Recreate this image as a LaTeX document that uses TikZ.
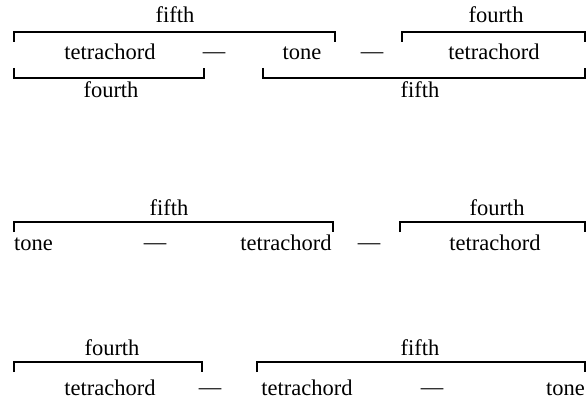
\documentclass[tikz,border=0pt]{standalone}
\usepackage{fontspec}
\setmainfont{Liberation Serif}
\begin{document}
\begin{tikzpicture}[x=1pt,y=-1pt,
  txt/.style={inner sep=0pt,anchor=base,font=\fontsize{22.5}{25}\selectfont},
  brk/.style={line width=1.3pt,line cap=butt,line join=miter}]
\useasboundingbox (0,0) rectangle (586,401);
% ---------- row 1 ----------
\node[txt] (r1top1) at (175,23) {fifth};
\node[txt] (r1top2) at (496,23) {fourth};
\node[txt] (r1a) at (110,60) {tetrachord};
\node[txt] (r1d1) at (214,59) {—};
\node[txt] (r1b) at (302,60) {tone};
\node[txt] (r1d2) at (372,59) {—};
\node[txt] (r1c) at (494,60) {tetrachord};
\node[txt] (r1bot1) at (111,98) {fourth};
\node[txt] (r1bot2) at (420,98) {fifth};
\coordinate (t1l) at (14,32);  \coordinate (t1r) at (335,32);
\coordinate (t2l) at (402,32); \coordinate (t2r) at (585,32);
\coordinate (u1l) at (14,78);  \coordinate (u1r) at (204,78);
\coordinate (u2l) at (263,78); \coordinate (u2r) at (585,78);
\draw[brk] (t1l) ++(0,10) -- (t1l) -- (t1r) -- ++(0,10);
\draw[brk] (t2l) ++(0,10) -- (t2l) -- (t2r) -- ++(0,10);
\draw[brk] (u1l) ++(0,-10) -- (u1l) -- (u1r) -- ++(0,-10);
\draw[brk] (u2l) ++(0,-10) -- (u2l) -- (u2r) -- ++(0,-10);
% ---------- row 2 ----------
\node[txt] (r2top1) at (169,215) {fifth};
\node[txt] (r2top2) at (497,215) {fourth};
\node[txt,anchor=base west] (r2a) at (14,250) {tone};
\node[txt] (r2d1) at (155,249) {—};
\node[txt] (r2b) at (286,250) {tetrachord};
\node[txt] (r2d2) at (369,249) {—};
\node[txt] (r2c) at (495,250) {tetrachord};
\coordinate (v1l) at (14,222);  \coordinate (v1r) at (333,222);
\coordinate (v2l) at (400,222); \coordinate (v2r) at (585,222);
\draw[brk] (v1l) ++(0,10) -- (v1l) -- (v1r) -- ++(0,10);
\draw[brk] (v2l) ++(0,10) -- (v2l) -- (v2r) -- ++(0,10);
% ---------- row 3 ----------
\node[txt] (r3top1) at (112,355) {fourth};
\node[txt] (r3top2) at (420,355) {fifth};
\node[txt] (r3a) at (110,395) {tetrachord};
\node[txt] (r3d1) at (210,394) {—};
\node[txt] (r3b) at (307,395) {tetrachord};
\node[txt] (r3d2) at (432,394) {—};
\node[txt,anchor=base east] (r3c) at (585,395) {tone};
\coordinate (w1l) at (14,362);  \coordinate (w1r) at (202,362);
\coordinate (w2l) at (257,362); \coordinate (w2r) at (585,362);
\draw[brk] (w1l) ++(0,10) -- (w1l) -- (w1r) -- ++(0,10);
\draw[brk] (w2l) ++(0,10) -- (w2l) -- (w2r) -- ++(0,10);
\end{tikzpicture}
\end{document}
